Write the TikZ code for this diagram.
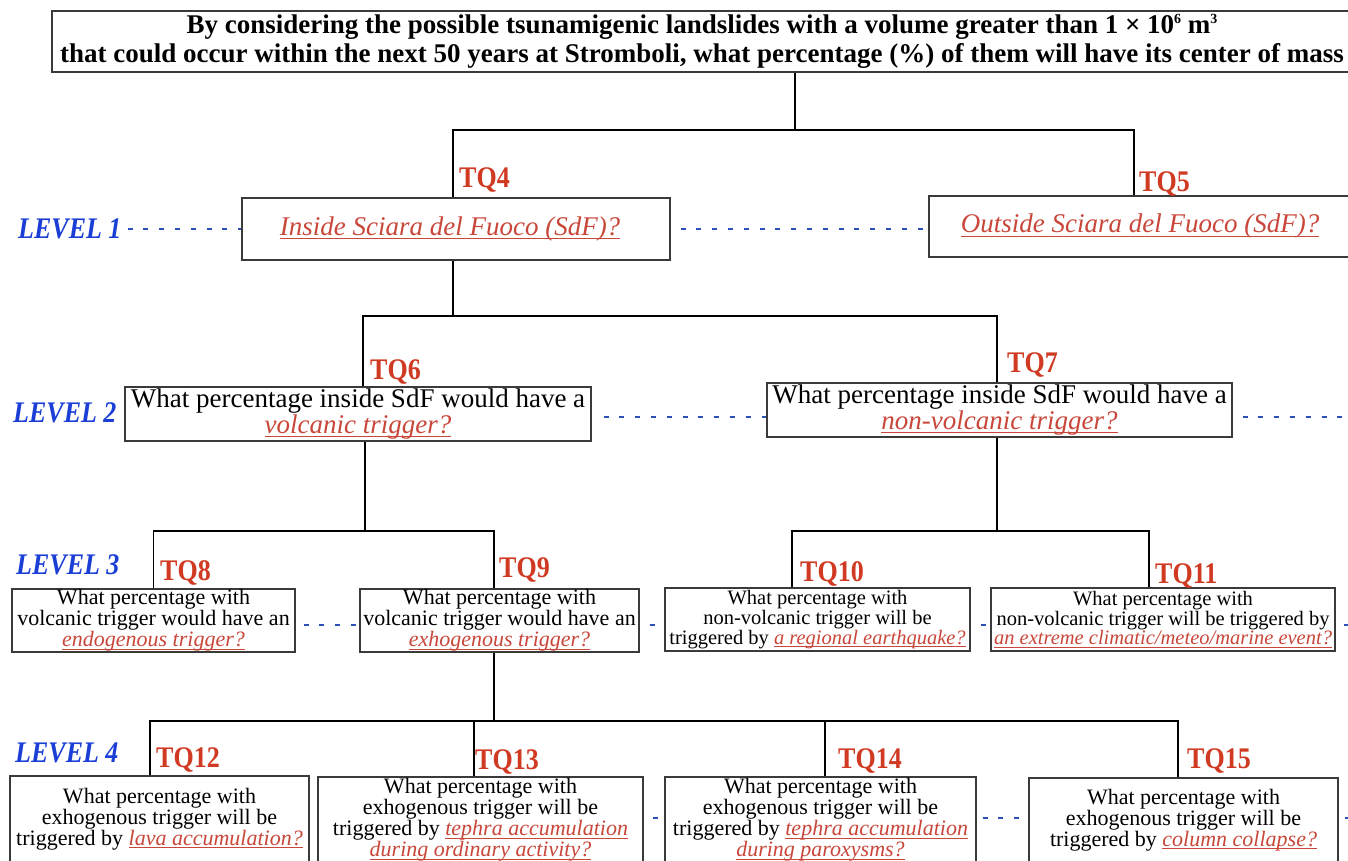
\documentclass[tikz,border=0pt]{standalone}
\usepackage{fontspec}
\setmainfont{Liberation Serif}
\usetikzlibrary{calc}
\definecolor{tqred}{HTML}{D03A22}
\definecolor{qred}{HTML}{C9473A}
\definecolor{lvblue}{HTML}{1B3FD6}
\definecolor{dotblue}{HTML}{2D4FB8}
\definecolor{boxgray}{HTML}{3A3A3A}
\newcommand{\q}[1]{{\color{qred}\itshape\setbox0\hbox{#1}\rlap{\rule[-0.14em]{\wd0}{0.045em}}\box0}}
\newcommand{\sups}[1]{\raisebox{0.8ex}{\fontsize{14}{14}\selectfont #1}}
\newcommand{\tall}[1]{\scalebox{1}[1.15]{#1}}
\newcommand{\ftitle}{\fontsize{27}{29}\selectfont\bfseries}
\newcommand{\fone}{\fontsize{27}{29}\selectfont}
\newcommand{\ftwo}{\fontsize{27}{23}\selectfont}
\newcommand{\fthree}{\fontsize{22}{18.3}\selectfont}
\newcommand{\fsmall}{\fontsize{20.5}{17}\selectfont}
\tikzset{
  box/.style={draw=boxgray, line width=1.1pt, inner sep=0pt, align=center, fill=white},
  tq/.style={text=tqred, font=\fontsize{26}{28}\selectfont\bfseries, inner sep=0pt, anchor=base west},
  lev/.style={text=lvblue, font=\fontsize{26}{28}\selectfont\bfseries\itshape, inner sep=0pt, anchor=base west},
  conn/.style={draw=black, line width=1.1pt},
  dotline/.style={draw=dotblue, line width=2.6pt, dash pattern=on 5pt off 10.8pt},
}
\begin{document}
\begin{tikzpicture}[x=1pt,y=-1pt]
\fill[white] (0,0) rectangle (1348,861);
\useasboundingbox (0,0) rectangle (1348,861);

% boxes
\node[box, minimum width=1300, minimum height=61, font=\ftitle] (title) at (702,41.5)
  {By considering the possible tsunamigenic landslides with a volume greater than 1 × 10\sups{6} m\sups{3}\\
   that could occur within the next 50 years at Stromboli, what percentage (\%) of them will have its center of mass};
\node[box, minimum width=428, minimum height=62, font=\fone] (b4) at (456,229) {\q{Inside Sciara del Fuoco (SdF)?}\hspace{12pt}};
\node[box, minimum width=422, minimum height=61, font=\fone] (b5) at (1140,226.5) {\q{Outside Sciara del Fuoco (SdF)?}};
\node[box, minimum width=466, minimum height=54, font=\ftwo] (b6) at (358,414) {What percentage inside SdF would have a\\ \q{volcanic trigger?}};
\node[box, minimum width=465, minimum height=54, font=\ftwo] (b7) at (999.5,410) {What percentage inside SdF would have a\\ \q{non-volcanic trigger?}};
\node[box, minimum width=283, minimum height=63, font=\fthree] (b8) at (153.5,620.5) {What percentage with\\volcanic trigger would have an\\ \q{endogenous trigger?}};
\node[box, minimum width=279, minimum height=63, font=\fthree] (b9) at (499.5,620.5) {What percentage with\\volcanic trigger would have an\\ \q{exhogenous trigger?}};
\node[box, minimum width=305, minimum height=63, font=\fsmall] (b10) at (817.5,619.5) {What percentage with\\non-volcanic trigger will be\\triggered by \q{a regional earthquake?}};
\node[box, minimum width=344, minimum height=63, font=\fsmall] (b11) at (1163,619.5) {What percentage with\\non-volcanic trigger will be triggered by\\ \q{an extreme climatic/meteo/marine event?}};
\node[box, minimum width=299, minimum height=86, font=\fthree] (b12) at (159.5,819) {What percentage with\\exhogenous trigger will be\\triggered by \q{lava accumulation?}};
\node[box, minimum width=325, minimum height=86, font=\fthree] (b13) at (480.5,820) {What percentage with\\exhogenous trigger will be\\triggered by \q{tephra accumulation}\\ \q{during ordinary activity?}};
\node[box, minimum width=311, minimum height=86, font=\fthree] (b14) at (820.5,820) {What percentage with\\exhogenous trigger will be\\triggered by \q{tephra accumulation}\\ \q{during paroxysms?}};
\node[box, minimum width=309, minimum height=84, font=\fthree] (b15) at (1183.5,820) {What percentage with\\exhogenous trigger will be\\triggered by \q{column collapse?}};

% TQ labels
\node[tq] (t4) at (459,188) {\tall{TQ4}};
\node[tq] (t5) at (1139,191) {\tall{TQ5}};
\node[tq] (t6) at (370,379) {\tall{TQ6}};
\node[tq] (t7) at (1007,372) {\tall{TQ7}};
\node[tq] (t8) at (160,580) {\tall{TQ8}};
\node[tq] (t9) at (499,577) {\tall{TQ9}};
\node[tq] (t10) at (800,581) {\tall{TQ10}};
\node[tq] (t11) at (1155,583) {\tall{TQ11}};
\node[tq] (t12) at (156,767) {\tall{TQ12}};
\node[tq] (t13) at (475,769) {\tall{TQ13}};
\node[tq] (t14) at (838,768) {\tall{TQ14}};
\node[tq] (t15) at (1187,768) {\tall{TQ15}};

% level labels
\node[lev] (lev1) at (18,238) {\tall{LEVEL 1}};
\node[lev] (lev2) at (13,422) {\tall{LEVEL 2}};
\node[lev] (lev3) at (16,574) {\tall{LEVEL 3}};
\node[lev] (lev4) at (15,762) {\tall{LEVEL 4}};

% tree connectors
\coordinate (j0) at (795,130);
\coordinate (c4n) at ($(b4.north)+(-3,0)$);
\coordinate (c5n) at ($(b5.north)+(-6,0)$);
\draw[conn] (title.south -| j0) -- (j0);
\draw[conn] (c4n) |- (j0) -| (c5n);

\coordinate (j4) at (453,316);
\coordinate (c4s) at ($(b4.south)+(-3,0)$);
\coordinate (c6n) at ($(b6.north)+(5,0)$);
\coordinate (c7n) at ($(b7.north)+(-2.5,0)$);
\draw[conn] (c4s) -- (j4);
\draw[conn] (c6n) |- (j4) -| (c7n);

\coordinate (j6) at (365,531);
\coordinate (c6s) at ($(b6.south)+(7,0)$);
\coordinate (c9n) at ($(b9.north)+(-5.5,0)$);
\draw[conn] (c6s) -- (j6);
\draw[conn] (b8.north) |- (j6) -| (c9n);

\coordinate (j7) at (997,531);
\coordinate (c7s) at ($(b7.south)+(-2.5,0)$);
\coordinate (c10n) at ($(b10.north)+(-25.5,0)$);
\coordinate (c11n) at ($(b11.north)+(-14,0)$);
\draw[conn] (c7s) -- (j7);
\draw[conn] (c10n) |- (j7) -| (c11n);

\coordinate (j9) at (494,721);
\coordinate (c9s) at ($(b9.south)+(-5.5,0)$);
\coordinate (c12n) at ($(b12.north)+(-9.5,0)$);
\coordinate (c13n) at ($(b13.north)+(-6.5,0)$);
\coordinate (c14n) at ($(b14.north)+(4.5,0)$);
\coordinate (c15n) at ($(b15.north)+(-5.5,0)$);
\draw[conn] (c9s) -- (j9);
\draw[conn] (c12n) |- (j9) -| (c15n);
\draw[conn] (c13n) -- (c13n |- j9);
\draw[conn] (c14n) -- (c14n |- j9);

% dotted level lines
\coordinate (y1) at (0,229);
\coordinate (y2) at (0,417);
\coordinate (y3) at (0,625);
\coordinate (y4) at (0,818);
\coordinate (r2) at (1348,417);
\coordinate (r3) at (1348,625);
\coordinate (r4) at (1348,818);
\draw[dotline] ([xshift=6pt]lev1.east |- y1) -- (b4.west |- y1);
\draw[dotline] ([xshift=10pt]b4.east |- y1) -- (b5.west |- y1);
\draw[dotline] ([xshift=12pt]b6.east |- y2) -- (b7.west |- y2);
\draw[dotline] ([xshift=10pt]b7.east |- y2) -- (r2);
\draw[dotline] ([xshift=8pt]b8.east |- y3) -- (b9.west |- y3);
\draw[dotline] ([xshift=10pt]b9.east |- y3) -- (b10.west |- y3);
\draw[dotline] ([xshift=10pt]b10.east |- y3) -- (b11.west |- y3);
\draw[dotline] ([xshift=8pt]b11.east |- y3) -- (r3);
\draw[dotline] ([xshift=9pt]b13.east |- y4) -- (b14.west |- y4);
\draw[dotline] ([xshift=6pt]b14.east |- y4) -- (b15.west |- y4);
\draw[dotline] ([xshift=6pt]b15.east |- y4) -- (r4);
\end{tikzpicture}
\end{document}
